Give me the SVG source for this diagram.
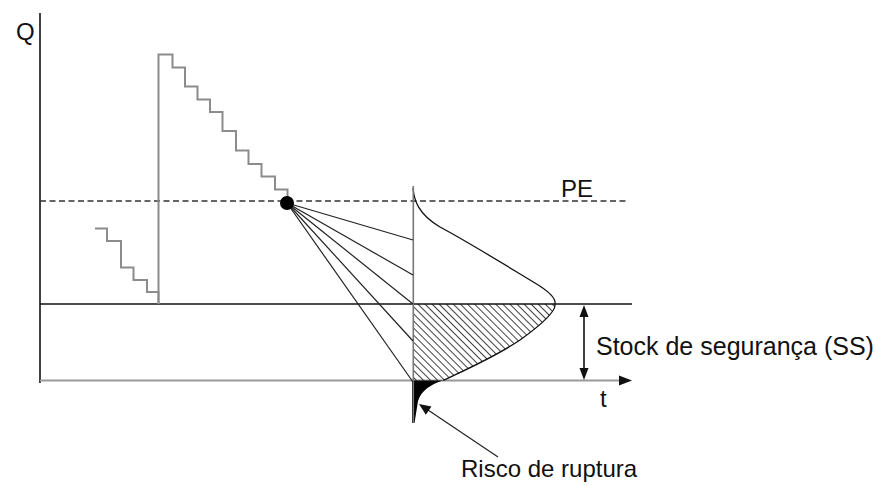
<svg xmlns="http://www.w3.org/2000/svg" width="882" height="486" viewBox="0 0 882 486">
<defs>
<style>
.txt{font-family:"Liberation Sans",Arial,sans-serif;font-size:24px;fill:#111}
.ax{stroke:#111;stroke-width:1.6;fill:none}
.gray{stroke:#8c8c8c;stroke-width:2;fill:none}
.ray{stroke:#222;stroke-width:1.2;fill:none}
.curve{stroke:#111;stroke-width:1.3;fill:none}
</style>
<pattern id="hatch" patternUnits="userSpaceOnUse" width="5" height="5" patternTransform="rotate(-45)">
<line x1="0" y1="0" x2="0" y2="5" stroke="#111" stroke-width="1.6"/>
</pattern>
</defs>
<rect width="882" height="486" fill="#fff"/>

<g id="axes">
<line class="ax" x1="40" y1="13" x2="40" y2="383"/>
<line x1="40" y1="380.5" x2="622" y2="380.5" stroke="#999" stroke-width="2"/>
<polygon points="632,380.5 619,375.5 619,385.5" fill="#111"/>
<text class="txt" x="16" y="40">Q</text>
<text class="txt" x="600" y="407">t</text>
</g>

<g id="ss-line">
<line class="ax" x1="40" y1="304" x2="632" y2="304"/>
</g>

<g id="pe-line">
<line x1="40" y1="201" x2="628" y2="201" stroke="#333" stroke-width="1.5" stroke-dasharray="6,3.5"/>
<text class="txt" x="561" y="197">PE</text>
</g>

<g id="stairs">
<polyline class="gray" points="95,228.5 107,228.5 107,241 121,241 121,267.5 133.5,267.5 133.5,280 147,280 147,292 158.5,292 158.5,304"/>
<polyline class="gray" points="158.5,304 158.5,54.5 172.5,54.5 172.5,67.5 185,67.5 185,86.5 197.5,86.5 197.5,99.5 210,99.5 210,112 222.5,112 222.5,131 236,131 236,150.5 248.5,150.5 248.5,164 261.5,164 261.5,176.5 275,176.5 275,189.5 287.5,189.5 287.5,203"/>
</g>

<g id="distribution">
<path d="M413,304 L555,304 C556,310 545,322 520,340 C495,357 465,370 443,380.5 L413,380.5 Z" fill="url(#hatch)"/>
<path d="M443,380.5 C431,384 421,391 418,401 L414.5,423 L412,423 L412,380.5 Z" fill="#000"/>
<path class="curve" d="M413,188 C414,200 418,214 440,227 C470,243 510,268 535,283 C550,292 556,299 555,304 C556,310 545,322 520,340 C495,357 465,370 443,380.5"/>
<line x1="413.3" y1="186" x2="413.3" y2="423" stroke="#777" stroke-width="1.6"/>
</g>

<g id="connectors">
<line class="ray" x1="287" y1="203" x2="413" y2="240"/>
<line class="ray" x1="287" y1="203" x2="413" y2="275"/>
<line class="ray" x1="287" y1="203" x2="413" y2="304"/>
<line class="ray" x1="287" y1="203" x2="413" y2="341"/>
<line class="ray" x1="287" y1="203" x2="413" y2="382"/>
<line class="ray" x1="498" y1="457" x2="428" y2="410"/>
<polygon points="419,404 431.5,406.5 425.8,414.8" fill="#111"/>
</g>

<g id="reorder-point">
<circle cx="287" cy="203" r="7" fill="#000"/>
</g>

<g id="ss-arrow">
<line x1="584" y1="314" x2="584" y2="370" stroke="#111" stroke-width="1.6"/>
<polygon points="584,305 579.5,317 588.5,317" fill="#111"/>
<polygon points="584,380 579.5,368 588.5,368" fill="#111"/>
<text class="txt" x="596" y="355" style="font-size:25px">Stock de segurança (SS)</text>
</g>

<g id="risk-label">
<text class="txt" x="461" y="477">Risco de ruptura</text>
</g>
</svg>
